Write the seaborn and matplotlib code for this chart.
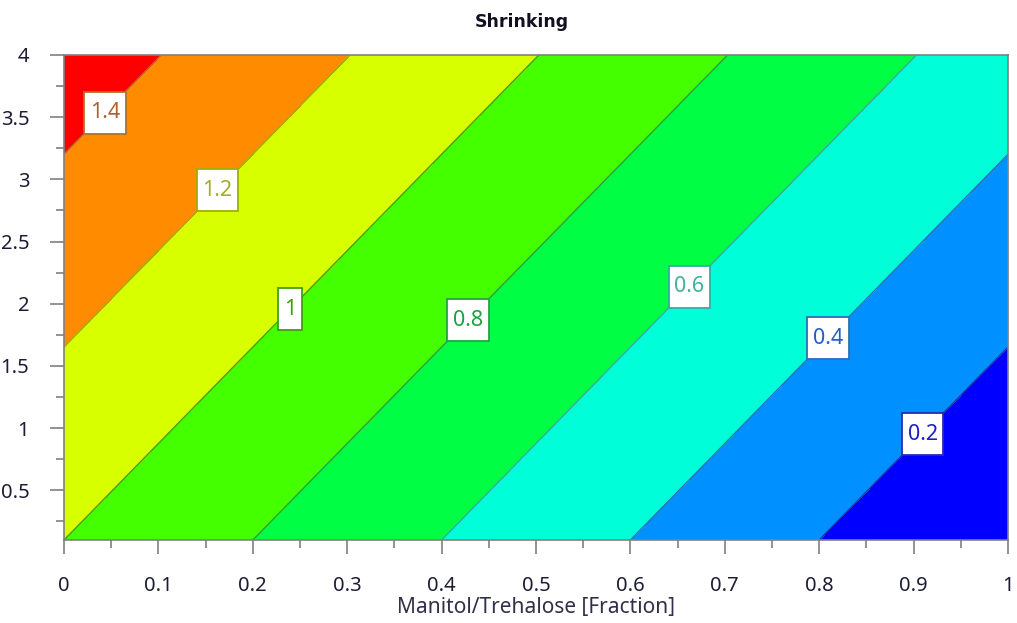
import numpy as np
import matplotlib
matplotlib.use("Agg")
import matplotlib.pyplot as plt
from matplotlib.colors import ListedColormap, BoundaryNorm
from matplotlib.ticker import MultipleLocator
from matplotlib.path import Path
import seaborn as sns

# ---- data ----
x_grid = [0.0, 0.25, 0.5, 0.75, 1.0]          # Manitol/Trehalose fraction
y_grid = [0.1, 1.0, 2.0, 3.0, 4.0]            # second factor
z_rows = [
    [1.000, 0.750, 0.500, 0.250, 0.000],
    [1.116, 0.866, 0.616, 0.366, 0.116],
    [1.245, 0.995, 0.745, 0.495, 0.245],
    [1.374, 1.124, 0.874, 0.624, 0.374],
    [1.503, 1.253, 1.003, 0.753, 0.503],
]
levels = [0.0, 0.2, 0.4, 0.6, 0.8, 1.0, 1.2, 1.4, 1.6]
label_levels = [0.2, 0.4, 0.6, 0.8, 1.0, 1.2, 1.4]
x_ticks = [0, 0.1, 0.2, 0.3, 0.4, 0.5, 0.6, 0.7, 0.8, 0.9, 1]
x_ticklabels = ["0", "0.1", "0.2", "0.3", "0.4", "0.5", "0.6", "0.7", "0.8", "0.9", "1"]
y_ticks = [0.5, 1, 1.5, 2, 2.5, 3, 3.5, 4]
y_ticklabels = ["0.5", "1", "1.5", "2", "2.5", "3", "3.5", "4"]

# ---- styling ----
fill_colors = ["#0000ff", "#0090ff", "#00ffd8", "#00ff44",
               "#44ff00", "#d8ff00", "#ff8c00", "#ff0000"]
line_colors = ["#2a2ab0", "#2a70b8", "#30b0a0", "#2aa040",
               "#40a010", "#a0b000", "#b07030"]
label_text_colors = ["#2020c0", "#2060c0", "#40b0a0", "#20a040",
                     "#40a000", "#a0b020", "#b06030"]
label_pos = [(0.911, 0.94), (0.811, 1.71), (0.663, 2.13), (0.429, 1.86),
             (0.24, 1.95), (0.163, 2.91), (0.043, 3.54)]


def tall_box(x0, y0, width, height, mutation_size):
    padx = 0.26 * mutation_size
    total_h = 1.95 * mutation_size
    pady = max((total_h - height) / 2, 0.26 * mutation_size)
    verts = [(x0 - padx, y0 - pady), (x0 + width + padx, y0 - pady),
             (x0 + width + padx, y0 + height + pady), (x0 - padx, y0 + height + pady),
             (x0 - padx, y0 - pady)]
    return Path(verts, closed=True)


sns.set_theme(style="white")
plt.rcParams["font.family"] = ["Noto Sans", "DejaVu Sans"]

fig = plt.figure(figsize=(10.17, 6.23), dpi=100)
ax = fig.add_axes([64 / 1017, 1 - 540 / 623, 944 / 1017, 485 / 623])

X, Y = np.meshgrid(x_grid, y_grid)
Z = np.array(z_rows)
cmap = ListedColormap(fill_colors)
norm = BoundaryNorm(levels, cmap.N)
ax.contourf(X, Y, Z, levels=levels, cmap=cmap, norm=norm)
cs = ax.contour(X, Y, Z, levels=label_levels, colors=line_colors, linewidths=1.0)
texts = ax.clabel(cs, levels=label_levels, manual=label_pos, inline=False,
                  fontsize=15.5, fmt=lambda v: f"{v:g}")
for t in texts:
    val = float(t.get_text())
    i = int(round(val / 0.2)) - 1
    t.set_rotation(0)
    t.set_color(label_text_colors[i])
    t.set_bbox(dict(boxstyle=tall_box, facecolor="white",
                    edgecolor=line_colors[i], linewidth=1.3))

ax.set_xlim(0, 1)
ax.set_ylim(0.1, 4)
ax.set_xticks(x_ticks)
ax.set_xticklabels(x_ticklabels)
ax.set_yticks(y_ticks)
ax.set_yticklabels(y_ticklabels)
ax.xaxis.set_minor_locator(MultipleLocator(0.05))
ax.yaxis.set_minor_locator(MultipleLocator(0.25))
ax.tick_params(axis="both", which="major", direction="out", length=10, width=1.2,
               color="#808080", labelsize=14.5, labelcolor="#1c1c34",
               bottom=True, left=True)
ax.tick_params(axis="x", which="major", pad=16)
ax.tick_params(axis="y", which="major", pad=15)
ax.tick_params(axis="both", which="minor", direction="out", length=6, width=1.2,
               color="#808080", bottom=True, left=True)
for s in ax.spines.values():
    s.set_color("#808080")
    s.set_linewidth(1.2)

ax.set_xlabel("Manitol/Trehalose [Fraction]", fontsize=15, color="#303048", labelpad=1)
fig.text(522 / 1017, 1 - 22 / 623, "Shrinking", fontsize=12.5, fontweight="bold",
         family=["DejaVu Sans"], color="#101020", ha="center", va="center")

fig.savefig("out.png", dpi=100)
